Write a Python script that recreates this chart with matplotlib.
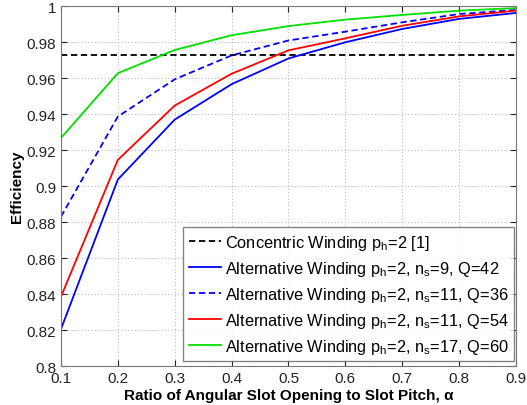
import matplotlib
matplotlib.use("Agg")
import matplotlib.pyplot as plt
import numpy as np

plt.rcParams['font.family'] = ['Liberation Sans', 'DejaVu Sans']
plt.rcParams['mathtext.fontset'] = 'custom'
plt.rcParams['mathtext.rm'] = 'Liberation Sans'
plt.rcParams['mathtext.it'] = 'Liberation Sans'

# slot opening ratio alpha
alpha = [0.1, 0.2, 0.3, 0.4, 0.5, 0.6, 0.7, 0.8, 0.9]

# efficiency of each winding layout
concentric_eff = 0.9727
alt_9_42 = [0.8205, 0.9037, 0.9370, 0.9567, 0.9710, 0.9800, 0.9874, 0.9930, 0.9963]
alt_11_36 = [0.8830, 0.9387, 0.9594, 0.9727, 0.9810, 0.9859, 0.9911, 0.9957, 0.9980]
alt_11_54 = [0.8385, 0.9146, 0.9448, 0.9625, 0.9755, 0.9822, 0.9892, 0.9944, 0.9976]
alt_17_60 = [0.9268, 0.9628, 0.9757, 0.9839, 0.9890, 0.9926, 0.9952, 0.9976, 0.9990]

xticks = [0.1, 0.2, 0.3, 0.4, 0.5, 0.6, 0.7, 0.8, 0.9]
yticks = [0.8, 0.82, 0.84, 0.86, 0.88, 0.9, 0.92, 0.94, 0.96, 0.98, 1.0]

ph = r'p$_\mathrm{h}$'
ns = r'n$_\mathrm{s}$'

fig = plt.figure(figsize=(5.27, 4.06), dpi=100)
ax = fig.add_axes([0.1157, 0.096, 0.8633, 0.886])

ax.axhline(concentric_eff, color='black', linestyle=(0, (3.5, 2)), linewidth=1.3,
           label='Concentric Winding %s=2 [1]' % ph)
ax.plot(alpha, alt_9_42, color='#0000ff', linewidth=1.3,
        label='Alternative Winding %s=2, %s=9, Q=42' % (ph, ns))
ax.plot(alpha, alt_11_36, color='#0000ff', linewidth=1.3, linestyle=(0, (3.5, 2)),
        label='Alternative Winding %s=2, %s=11, Q=36' % (ph, ns))
ax.plot(alpha, alt_11_54, color='#ff0000', linewidth=1.3,
        label='Alternative Winding %s=2, %s=11, Q=54' % (ph, ns))
ax.plot(alpha, alt_17_60, color='#00e000', linewidth=1.3,
        label='Alternative Winding %s=2, %s=17, Q=60' % (ph, ns))

ax.set_xlim(0.1, 0.9)
ax.set_ylim(0.8, 1.0)
ax.set_xticks(xticks)
ax.set_xticklabels(['%g' % x for x in xticks])
ax.set_yticks(yticks)
ax.set_yticklabels(['%g' % y for y in yticks])
ax.tick_params(direction='in', labelsize=11, colors='#222222', length=4,
               top=True, right=True)
for s in ax.spines.values():
    s.set_color('#777777')
ax.grid(True, linestyle=(0, (1, 2)), color='#bbbbbb', linewidth=0.8)

ax.set_xlabel('Ratio of Angular Slot Opening to Slot Pitch, α', fontsize=11,
              fontweight='bold', labelpad=2)
ax.set_ylabel('Efficiency', fontsize=11, fontweight='bold', labelpad=2)

leg = ax.legend(loc='lower right', bbox_to_anchor=(0.9965, 0.013), fontsize=11.8,
                frameon=True, fancybox=False, handlelength=1.95, handletextpad=0.25,
                labelspacing=0.42, borderpad=0.35, borderaxespad=0)
leg.get_frame().set_edgecolor('#666666')
leg.get_frame().set_linewidth(1.0)

fig.savefig('out.png', dpi=100)
